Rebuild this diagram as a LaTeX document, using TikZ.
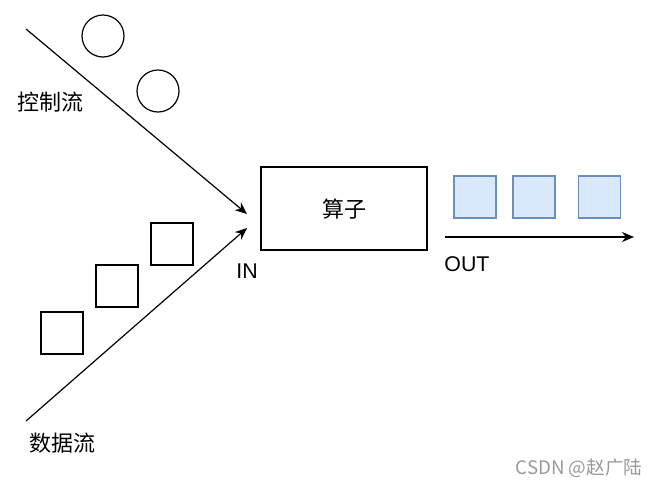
\documentclass[tikz,border=0pt]{standalone}
\usepackage{fontspec}
\setmainfont{Liberation Sans}
\newfontfamily\cjk{Noto Sans CJK SC}
\usetikzlibrary{arrows.meta}
\definecolor{bluefill}{HTML}{DAE8FC}
\definecolor{bluedraw}{HTML}{6C8EBF}
\begin{document}
\begin{tikzpicture}[x=0.75pt,y=-0.75pt,
  flow/.style={line width=0.9pt,-{Stealth[length=9pt,width=7.5pt]}},
  token/.style={circle,draw,line width=0.9pt,minimum size=42*0.75pt,inner sep=0pt},
  datum/.style={rectangle,draw,line width=0.9pt,minimum size=42*0.75pt,inner sep=0pt},
  outdatum/.style={rectangle,draw=bluedraw,fill=bluefill,line width=0.9pt,minimum size=42*0.75pt,inner sep=0pt},
  label/.style={inner sep=0pt,font=\fontsize{16}{18}\selectfont},
  cjklabel/.style={inner sep=0pt,font=\cjk\fontsize{16.5}{18}\selectfont}]
\useasboundingbox (0,0) rectangle (659,486);
% control flow
\coordinate (cs) at (26,29);
\coordinate (ce) at (247,214);
\draw[flow] (cs) -- (ce);
\node[token] (c1) at (103,36) {};
\node[token] (c2) at (158,91) {};
\node[cjklabel] (ctl) at (50,102) {控制流};
% data flow
\coordinate (ds) at (26,421);
\coordinate (de) at (247,228);
\draw[flow] (ds) -- (de);
\node[datum] (d1) at (62,333) {};
\node[datum] (d2) at (117,286) {};
\node[datum] (d3) at (172,244) {};
\node[cjklabel] (dat) at (62,443) {数据流};
\node[label] (in) at (247,271) {IN};
% operator
\node[draw,line width=0.9pt,minimum width=166*0.75pt,minimum height=83*0.75pt,inner sep=0pt] (op) at (344,208.5) {};
\node[cjklabel] (opt) at (344,209) {算子};
% output
\node[outdatum] (o1) at (475,197) {};
\node[outdatum] (o2) at (534,197) {};
\node[outdatum] (o3) at (599.5,197) {};
\coordinate (os) at (445,237);
\coordinate (oe) at (634,237);
\draw[flow] (os) -- (oe);
\node[label] (out) at (467,264) {OUT};
% watermark
\node[inner sep=0pt,text=black!40,font=\cjk\fontsize{14}{16}\selectfont] (wm) at (579,468) {CSDN @赵广陆};
\end{tikzpicture}
\end{document}
